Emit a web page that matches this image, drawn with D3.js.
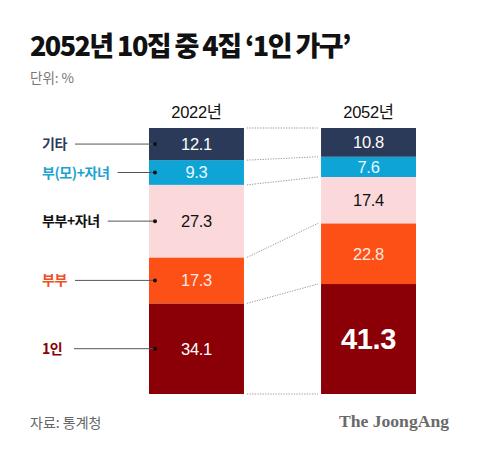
<!DOCTYPE html>
<html><head><meta charset="utf-8">
<script src="https://cdn.jsdelivr.net/npm/d3@7"></script>
<style>
html,body{margin:0;padding:0;background:#fff;}
svg{display:block;}
</style></head>
<body>
<script>
const categories = ["1인", "부부", "부부+자녀", "부(모)+자녀", "기타"];
const years = ["2022년", "2052년"];
const values2022 = [34.1, 17.3, 27.3, 9.3, 12.1];
const values2052 = [41.3, 22.8, 17.4, 7.6, 10.8];
const colors = ["#8a0006", "#fd5016", "#fbd9da", "#0ea5d6", "#2c3a59"];
const labelColors = ["#8a0006", "#f04e23", "#111111", "#1aa3cf", "#2c3a59"];
const valueColors = ["#ffffff", "#fde8e0", "#111111", "#e8f8ff", "#ffffff"];

const W = 480, H = 452;
const svg = d3.select("body").append("svg").attr("width", W).attr("height", H);
const KR = "'Noto Sans CJK KR', 'Noto Sans', sans-serif";
const NUM = "'Liberation Sans', Arial, 'Noto Sans CJK KR', sans-serif";

// title
const title = svg.append("text").attr("x", 30).attr("y", 56)
  .attr("font-family", KR).attr("font-weight", 900).attr("font-size", 27)
  .attr("letter-spacing", -1.4).attr("fill", "#111")
  .text("2052년 10집 중 4집 ‘1인 가구’");
const tl = title.node().getComputedTextLength();
if (tl > 322) title.attr("textLength", 320).attr("lengthAdjust", "spacing");
svg.append("text").attr("x", 30).attr("y", 83)
  .attr("font-family", KR).attr("font-size", 13.5).attr("fill", "#777")
  .text("단위: %");

const data = [values2022, values2052];
const x = d3.scaleBand().domain(years).range([149, 416]).paddingInner(0.448).paddingOuter(0);
const bw = x.bandwidth();

const stacks = data.map(vals => {
  const total = d3.sum(vals);
  const y = d3.scaleLinear().domain([0, total]).range([394, 128]);
  let acc = 0;
  return vals.map((v, i) => { const s = {i, v, y0: y(acc), y1: y(acc + v)}; acc += v; return s; });
});

// connectors (dotted)
const x0 = x(years[0]) + bw + 3, x1 = x(years[1]) - 3;
const bounds = stacks.map(st => [st[0].y0].concat(st.map(s => s.y1)));
bounds[0].forEach((yl, k) => {
  svg.append("line").attr("x1", x0).attr("x2", x1)
    .attr("y1", yl).attr("y2", bounds[1][k])
    .attr("stroke", "#9a9a9a").attr("stroke-width", 1).attr("stroke-dasharray", "1.3,1.3");
});

// bars
years.forEach((yr, c) => {
  const g = svg.append("g");
  g.selectAll("rect").data(stacks[c]).join("rect")
    .attr("x", x(yr)).attr("width", bw)
    .attr("y", d => d.y1).attr("height", d => d.y0 - d.y1)
    .attr("fill", d => colors[d.i]);
  g.selectAll("text").data(stacks[c]).join("text")
    .attr("x", x(yr) + bw / 2)
    .attr("y", d => (d.y0 + d.y1) / 2)
    .attr("dy", "0.36em")
    .attr("text-anchor", "middle")
    .attr("font-family", NUM)
    .attr("font-weight", d => (c === 1 && d.i === 0) ? 700 : 400)
    .attr("font-size", d => (c === 1 && d.i === 0) ? 29 : 16.5)
    .attr("letter-spacing", -0.3)
    .attr("fill", d => valueColors[d.i])
    .text(d => d.v.toFixed(1));
  svg.append("text").attr("x", x(yr) + bw / 2).attr("y", 118)
    .attr("text-anchor", "middle").attr("font-family", NUM).attr("font-size", 16.5)
    .attr("letter-spacing", -0.3).attr("fill", "#111").text(yr);
});

// category labels with leaders
const dotX = x(years[0]) + 6;
stacks[0].forEach(s => {
  const cy = (s.y0 + s.y1) / 2;
  const t = svg.append("text").attr("x", 42).attr("y", cy).attr("dy", "0.36em")
    .attr("font-family", KR).attr("font-weight", 700).attr("font-size", 14)
    .attr("letter-spacing", -0.4)
    .attr("fill", labelColors[s.i]).text(categories[s.i]);
  const tw = t.node().getComputedTextLength();
  const lx = Math.max(74, 42 + tw + 8);
  svg.append("line").attr("x1", lx).attr("x2", dotX).attr("y1", cy).attr("y2", cy)
    .attr("stroke", "#555").attr("stroke-width", 1);
  svg.append("circle").attr("cx", dotX).attr("cy", cy).attr("r", 2).attr("fill", "#111");
});

// footer
svg.append("text").attr("x", 30).attr("y", 428)
  .attr("font-family", KR).attr("font-size", 14).attr("fill", "#666").text("자료: 통계청");
svg.append("text").attr("x", 339).attr("y", 427)
  .attr("font-family", "'Liberation Serif', 'DejaVu Serif', serif").attr("font-weight", 700)
  .attr("font-size", 17.5).attr("textLength", 110).attr("lengthAdjust", "spacingAndGlyphs")
  .attr("fill", "#6a6a6a").text("The JoongAng");
</script>
</body></html>
